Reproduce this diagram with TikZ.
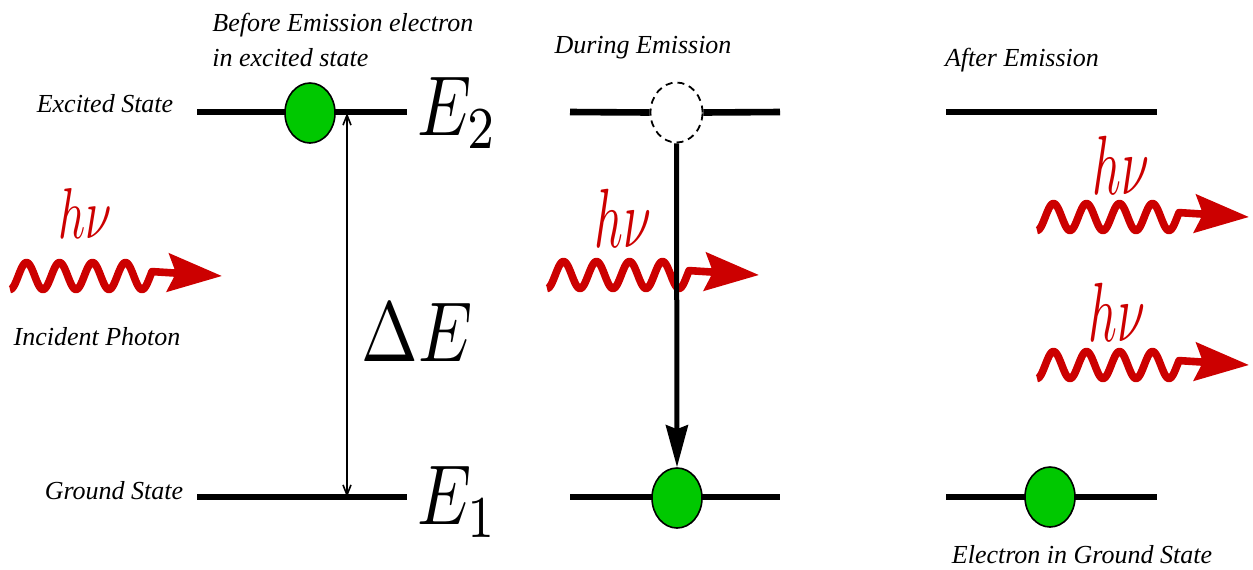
\documentclass[tikz,border=0pt]{standalone}
\usepackage[no-math]{fontspec}
\usepackage{graphicx}
\usetikzlibrary{arrows.meta,shapes.geometric}
\newfontfamily\labfont{Liberation Serif}
\definecolor{photonred}{RGB}{204,0,0}
\definecolor{egreen}{RGB}{0,200,0}
\newcommand\bigmath[1]{\scalebox{3.4}[4.25]{$#1$}}
\newcommand\photonwave[2]{% x0, y
  \pgfmathsetmacro\pwxe{#1+142}%
  \pgfmathsetmacro\pwxt{#1+212}%
  \draw[photonline] plot[domain=#1:\pwxe, samples=143, variable=\t]
    (\t, {#2+13.5*cos((\t-#1)/33*360)}) -- (\pwxt, #2);
}
\tikzset{
  level/.style={line width=3.3pt},
  lab/.style={font=\labfont\itshape\fontsize{13}{17.5}\selectfont, inner sep=0pt},
  electron/.style={ellipse, draw=black, line width=0.8pt, fill=egreen,
    minimum width=25pt, minimum height=30pt, inner sep=0pt},
  ghost/.style={ellipse, draw=black, line width=0.9pt, dash pattern=on 3.5pt off 2.5pt,
    minimum width=26pt, minimum height=30pt, inner sep=0pt},
  photonline/.style={photonred, line width=3.8pt, line join=round,
    -{Stealth[length=27pt, width=19pt, inset=4pt]}},
  hnu/.style={text=photonred, inner sep=0pt},
  bigm/.style={inner sep=0pt}
}
\begin{document}
\begin{tikzpicture}[x=0.5pt, y=-0.5pt]
\useasboundingbox (0,0) rectangle (1253,569);

% ---------- left panel ----------
\coordinate (L2a) at (197,112); \coordinate (L2b) at (407,112);
\coordinate (L1a) at (197,497); \coordinate (L1b) at (407,497);
\draw[level] (L2a) -- (L2b);
\draw[level] (L1a) -- (L1b);
\coordinate (dt) at (347,113); \coordinate (db) at (347,497);
\draw[line width=0.8pt, {Straight Barb[length=5pt,width=4pt]}-{Straight Barb[length=5pt,width=4pt]}] (dt) -- (db);
\node[electron] (e1) at (310,113) {};
\node[bigm] (E2) at (458,113) {\bigmath{E_2}};
\node[bigm] (E1) at (458,502) {\bigmath{E_1}};
\node[bigm] (dE) at (417,332) {\bigmath{\Delta E}};
\node[lab] (exc) at (105,104) {Excited State};
\node[lab] (gnd) at (114,491) {Ground State};
\node[lab, align=left, anchor=west] (before) at (212,40) {Before Emission electron\\in excited state};
\node[lab] (inc) at (97,337) {Incident Photon};
\photonwave{10}{276}
\node[hnu] (h1) at (85,213) {\scalebox{2.36}[3.6]{$h\nu$}};

% ---------- middle panel ----------
\node[ghost] (ghost) at (676.5,112.5) {};
\coordinate (M2a) at (570,112); \coordinate (M2b) at (780,112);
\coordinate (M1a) at (570,497); \coordinate (M1b) at (780,497);
\draw[level] (M2a) -- (ghost.west);
\draw[level] (ghost.east) -- (M2b);
\draw[level] (M1a) -- (M1b);
\photonwave{547}{275}
\node[hnu] (h2) at (623,218) {\scalebox{2.5}[4.2]{$h\nu$}};
\node[electron] (e2) at (677,498) {};
\draw[line width=2.5pt, -{Stealth[length=21pt,width=11pt,inset=2pt]}] (ghost.south) -- (e2.north);
\node[lab] (dur) at (643,48) {During Emission};

% ---------- right panel ----------
\coordinate (R2a) at (946,112); \coordinate (R2b) at (1157,112);
\coordinate (R1a) at (946,497); \coordinate (R1b) at (1157,497);
\draw[level] (R2a) -- (R2b);
\draw[level] (R1a) -- (R1b);
\node[electron] (e3) at (1050,497) {};
\photonwave{1037}{217}
\photonwave{1037}{365}
\node[hnu] (h3) at (1121,165) {\scalebox{2.5}[4.2]{$h\nu$}};
\node[hnu] (h4) at (1117,312) {\scalebox{2.5}[4.2]{$h\nu$}};
\node[lab] (aft) at (1022,60) {After Emission};
\node[lab] (egs) at (1082,555) {Electron in Ground State};
\end{tikzpicture}
\end{document}
